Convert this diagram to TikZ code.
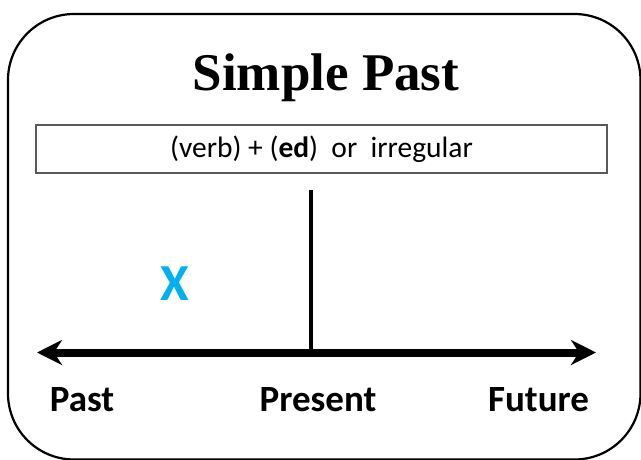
\documentclass[tikz,border=0pt]{standalone}
\usepackage{fontspec}
\setmainfont{Liberation Serif}
\newfontfamily\calibri{Carlito}
\usetikzlibrary{arrows.meta}
\definecolor{xblue}{RGB}{0,176,240}

\begin{document}
\begin{tikzpicture}[
	         x                = 1pt,
	         y                = -1pt,
	         frame/.style     = {line width=2.2pt, rounded corners=66pt},
	         timeline/.style  = {line width=8pt, {Stealth[length=25pt, width=25pt, inset=8pt]}-{Stealth[length=25pt, width=25pt, inset=8pt]}},
	         tense/.style     = {anchor=base, inner sep=0pt, font=\calibri\bfseries\fontsize{37}{44}\selectfont}]
	  \useasboundingbox (0,0) rectangle (641,459);
	  \draw [frame] (8,14) rectangle (640.5,459.5);
	  \node (title) [anchor=base, inner sep=0pt, font=\bfseries\fontsize{53}{60}\selectfont] at (326,90) {Simple Past};
	  \node (rule) [draw=black!65, line width=1.2pt, minimum width=571pt, minimum height=48pt, inner sep=0pt,
	                font=\calibri\fontsize{29.5}{34}\selectfont] at (321.5,149) {(verb) + (\textbf{ed})\ \ or\ \ irregular};
	  \coordinate (pastend) at (37,352.5);
	  \coordinate (futend)  at (596,352.5);
	  \coordinate (now)     at (311,352.5);
	  \coordinate (nowtop)  at (311,190);
	  \draw [line width=4pt] (nowtop) -- (now);
	  \draw [timeline] (pastend) -- (futend);
	  \node (event) [anchor=base, inner sep=0pt, text=xblue, font=\calibri\bfseries\fontsize{52}{60}\selectfont] at (174.5,300) {X};
	  \node (past)    [tense] at (82,411)    {Past};
	  \node (present) [tense] at (318,411)   {Present};
	  \node (future)  [tense] at (538.5,411) {Future};
	\end{tikzpicture}
\end{document}
